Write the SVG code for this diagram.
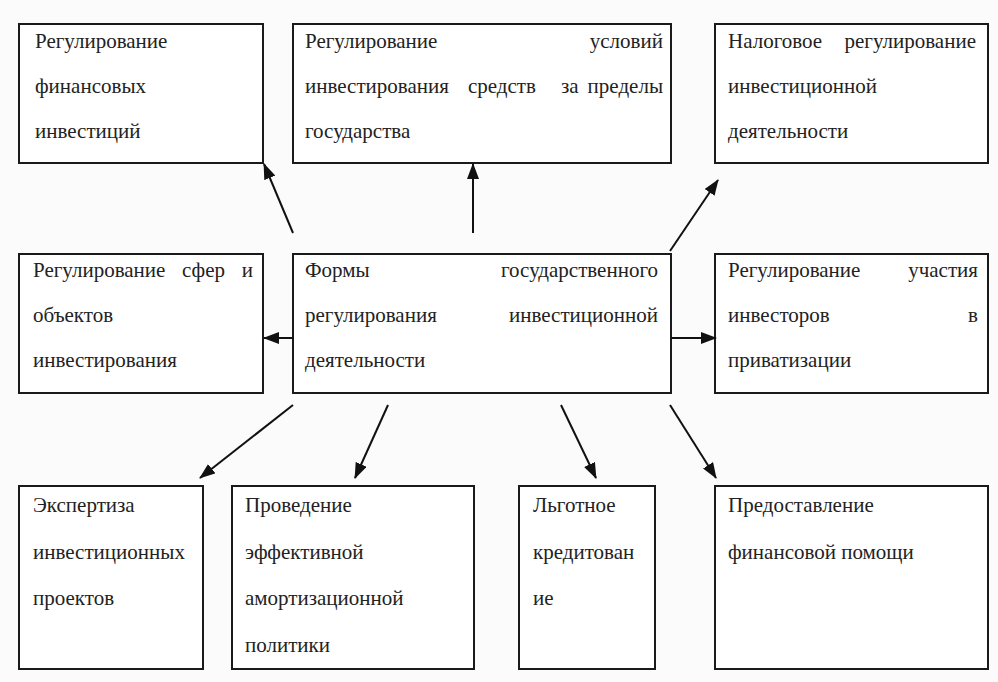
<svg xmlns="http://www.w3.org/2000/svg" width="998" height="682" viewBox="0 0 998 682">
<style>
.bg{fill:#fbfbfb}
.box{fill:#ffffff;stroke:#1a1a1a;stroke-width:2}
.t{font-family:"Liberation Serif","Times New Roman",serif;font-size:21px;fill:#222}
.e{text-anchor:end}
.c{stroke:#111;stroke-width:2;fill:none;marker-end:url(#ah)}
</style>
<defs>
<marker id="ah" viewBox="0 0 16 12" refX="15" refY="6" markerWidth="16" markerHeight="12" markerUnits="userSpaceOnUse" orient="auto">
<path d="M0,0 L16,6 L0,12 Z" fill="#111"/>
</marker>
</defs>
<rect class="bg" x="0" y="0" width="998" height="682"/>

<g id="n_fin">
<rect class="box" x="19" y="24" width="244" height="139"/>
<text class="t" x="35" y="48">Регулирование</text>
<text class="t" x="35" y="93">финансовых</text>
<text class="t" x="35" y="138">инвестиций</text>
</g>

<g id="n_abroad">
<rect class="box" x="293" y="24" width="378" height="139"/>
<text class="t" x="305" y="48">Регулирование</text>
<text class="t e" x="663" y="48">условий</text>
<text class="t" x="305" y="93">инвестирования</text>
<text class="t" x="468" y="93">средств</text>
<text class="t" x="561" y="93">за</text>
<text class="t e" x="663" y="93">пределы</text>
<text class="t" x="305" y="138">государства</text>
</g>

<g id="n_tax">
<rect class="box" x="715" y="24" width="273" height="139"/>
<text class="t" x="728" y="48">Налоговое</text>
<text class="t e" x="976" y="48">регулирование</text>
<text class="t" x="728" y="93">инвестиционной</text>
<text class="t" x="728" y="138">деятельности</text>
</g>

<g id="n_spheres">
<rect class="box" x="19" y="254" width="244" height="139"/>
<text class="t" x="33" y="277">Регулирование</text>
<text class="t" x="182" y="277">сфер</text>
<text class="t e" x="253" y="277">и</text>
<text class="t" x="33" y="322">объектов</text>
<text class="t" x="33" y="367">инвестирования</text>
</g>

<g id="n_center">
<rect class="box" x="293" y="254" width="378" height="139"/>
<text class="t" x="305" y="277">Формы</text>
<text class="t e" x="658" y="277">государственного</text>
<text class="t" x="305" y="322">регулирования</text>
<text class="t e" x="658" y="322">инвестиционной</text>
<text class="t" x="305" y="367">деятельности</text>
</g>

<g id="n_priv">
<rect class="box" x="715" y="254" width="273" height="139"/>
<text class="t" x="728" y="277">Регулирование</text>
<text class="t e" x="978" y="277">участия</text>
<text class="t" x="728" y="322">инвесторов</text>
<text class="t e" x="978" y="322">в</text>
<text class="t" x="728" y="367">приватизации</text>
</g>

<g id="n_expert">
<rect class="box" x="19" y="486" width="184" height="183"/>
<text class="t" x="33" y="512">Экспертиза</text>
<text class="t" x="33" y="559">инвестиционных</text>
<text class="t" x="33" y="605">проектов</text>
</g>

<g id="n_amort">
<rect class="box" x="232" y="486" width="242" height="183"/>
<text class="t" x="245" y="512">Проведение</text>
<text class="t" x="245" y="559">эффективной</text>
<text class="t" x="245" y="605">амортизационной</text>
<text class="t" x="245" y="652">политики</text>
</g>

<g id="n_credit">
<rect class="box" x="519" y="486" width="136" height="183"/>
<text class="t" x="533" y="512">Льготное</text>
<text class="t" x="533" y="559">кредитован</text>
<text class="t" x="533" y="605">ие</text>
</g>

<g id="n_help">
<rect class="box" x="715" y="486" width="273" height="183"/>
<text class="t" x="728" y="512">Предоставление</text>
<text class="t" x="728" y="559">финансовой помощи</text>
</g>

<g id="connectors">
<line class="c" x1="293" y1="233" x2="264" y2="164"/>
<line class="c" x1="473" y1="233" x2="473" y2="164"/>
<line class="c" x1="670" y1="251" x2="718" y2="180"/>
<line class="c" x1="293" y1="338" x2="264" y2="338"/>
<line class="c" x1="671" y1="338" x2="716" y2="338"/>
<line class="c" x1="293" y1="405" x2="200" y2="478"/>
<line class="c" x1="388" y1="405" x2="355" y2="478"/>
<line class="c" x1="561" y1="405" x2="596" y2="478"/>
<line class="c" x1="670" y1="405" x2="716" y2="478"/>
</g>
</svg>
